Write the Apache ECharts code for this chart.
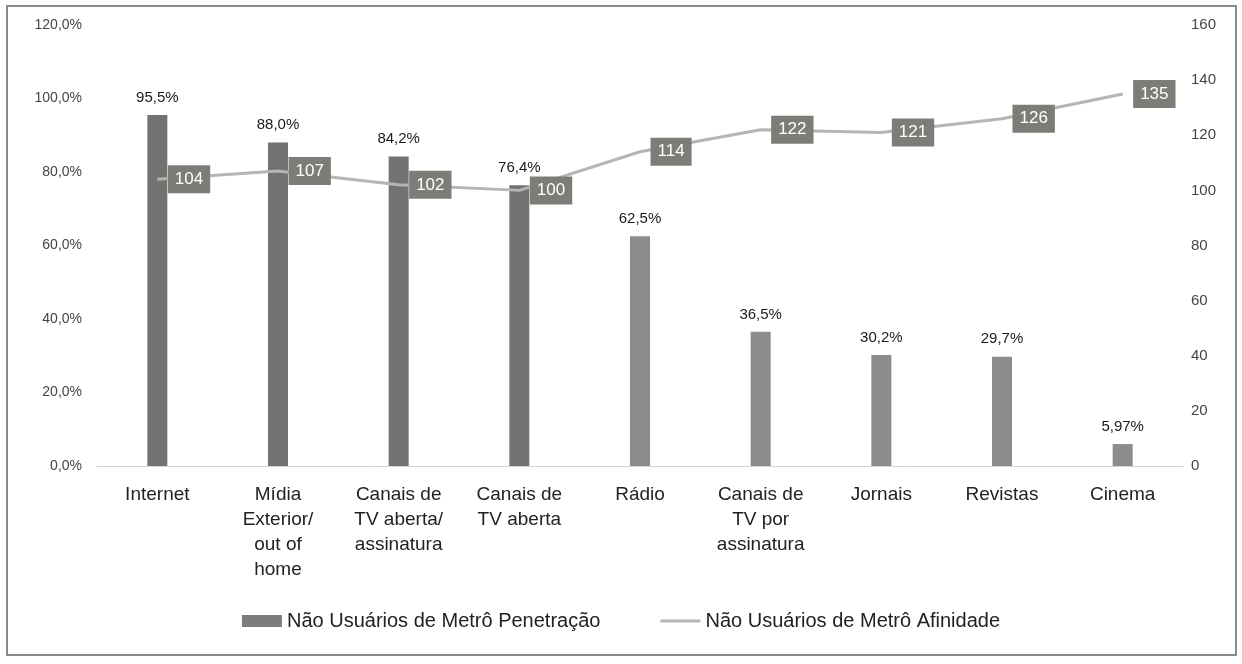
<!DOCTYPE html>
<html>
<head>
<meta charset="utf-8">
<script src="https://cdn.jsdelivr.net/npm/echarts@6/dist/echarts.min.js"></script>
<style>
  html, body { margin: 0; padding: 0; background: #fff; }
  #chart { width: 1242px; height: 664px; }
</style>
</head>
<body>
<div id="chart"></div>
<script>
// 数据
const categories = [
  'Internet',
  'Mídia\nExterior/\nout of\nhome',
  'Canais de\nTV aberta/\nassinatura',
  'Canais de\nTV aberta',
  'Rádio',
  'Canais de\nTV por\nassinatura',
  'Jornais',
  'Revistas',
  'Cinema'
]
const penetracao = [95.5, 88.0, 84.2, 76.4, 62.5, 36.5, 30.2, 29.7, 5.97]
const penetracaoLabels = ['95,5%', '88,0%', '84,2%', '76,4%', '62,5%', '36,5%', '30,2%', '29,7%', '5,97%']
const afinidade = [104, 107, 102, 100, 114, 122, 121, 126, 135]

const font = '"Liberation Sans", Arial, sans-serif'
const chart = echarts.init(document.getElementById('chart'), null, { renderer: 'canvas' })

chart.setOption({
  animation: false,
  textStyle: { fontFamily: font },
  graphic: [{
    type: 'rect',
    shape: { x: 7, y: 6, width: 1229, height: 649 },
    style: { fill: 'none', stroke: '#8a8a8a', lineWidth: 2 },
    silent: true
  }],
  grid: { left: 97, right: 59, top: 25, bottom: 198 },
  legend: {
    bottom: 28,
    left: 'center',
    itemGap: 60,
    itemWidth: 40,
    itemHeight: 12,
    textStyle: { fontSize: 20, color: '#222', fontFamily: font },
    data: [
      { name: 'Não Usuários de Metrô Penetração', icon: 'rect', itemStyle: { color: '#7c7c7c' } },
      {
        name: 'Não Usuários de Metrô Afinidade',
        icon: 'path://M0,0 L40,0 L40,3 L0,3 Z',
        itemStyle: { color: '#b5b5b5' }
      }
    ]
  },
  xAxis: {
    type: 'category',
    data: categories,
    axisLine: { lineStyle: { color: '#d4d4d4', width: 1 } },
    axisTick: { show: false },
    axisLabel: {
      color: '#222',
      fontSize: 19,
      lineHeight: 25,
      margin: 16,
      interval: 0,
      fontFamily: font
    }
  },
  yAxis: [
    {
      type: 'value',
      min: 0,
      max: 120,
      interval: 20,
      splitLine: { show: false },
      axisLine: { show: false },
      axisTick: { show: false },
      axisLabel: {
        color: '#444',
        fontSize: 14,
        margin: 15,
        fontFamily: font,
        formatter: v => v.toFixed(1).replace('.', ',') + '%'
      }
    },
    {
      type: 'value',
      min: 0,
      max: 160,
      interval: 20,
      splitLine: { show: false },
      axisLine: { show: false },
      axisTick: { show: false },
      axisLabel: { color: '#444', fontSize: 15, margin: 8, fontFamily: font }
    }
  ],
  series: [
    {
      name: 'Não Usuários de Metrô Penetração',
      type: 'bar',
      data: penetracao,
      barWidth: 20,
      itemStyle: {
        color: p => (p.dataIndex < 4 ? '#727272' : '#8c8c8c')
      },
      label: {
        show: true,
        position: 'top',
        distance: 10,
        fontSize: 15,
        color: '#1a1a1a',
        fontFamily: font,
        formatter: p => penetracaoLabels[p.dataIndex]
      },
      z: 2
    },
    {
      name: 'Não Usuários de Metrô Afinidade',
      type: 'line',
      yAxisIndex: 1,
      data: afinidade,
      symbol: 'circle',
      symbolSize: 1,
      showSymbol: true,
      lineStyle: { color: '#b5b5b5', width: 3 },
      itemStyle: { color: '#b5b5b5' },
      label: {
        show: true,
        position: 'right',
        distance: 10,
        fontSize: 17,
        color: '#fff',
        backgroundColor: '#7d7d78',
        padding: [6, 7, 5, 7],
        fontFamily: font
      },
      z: 3
    }
  ]
})
</script>
</body>
</html>
